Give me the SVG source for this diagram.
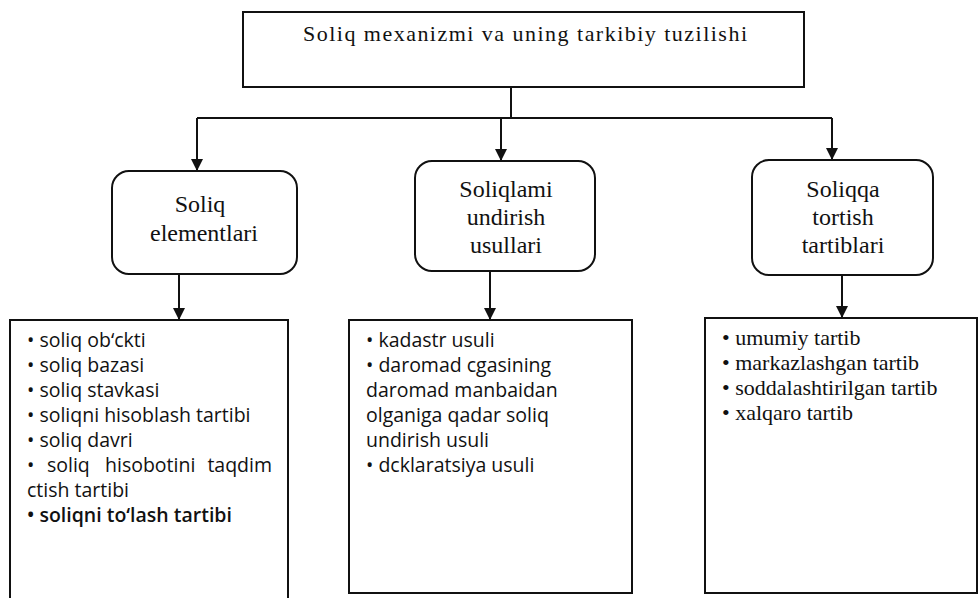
<svg xmlns="http://www.w3.org/2000/svg" width="980" height="598" viewBox="0 0 980 598">
<style>
.box{fill:#fff;stroke:#111;stroke-width:2}
.ln{fill:none;stroke:#111;stroke-width:2}
.ttl{font-family:"Liberation Serif",serif;font-size:22px;fill:#111}
.hd{font-family:"Liberation Serif",serif;font-size:24px;fill:#111;text-anchor:middle}
.it{font-family:"Open Sans","Liberation Sans",sans-serif;font-size:19.5px;fill:#111}
.its{font-family:"Liberation Serif",serif;font-size:22px;fill:#111}
</style>
<defs>
<marker id="a" markerUnits="userSpaceOnUse" markerWidth="12" markerHeight="12" refX="11" refY="6" orient="auto" viewBox="0 0 12 12">
<path d="M0 0 L12 6 L0 12 Z" fill="#111"/>
</marker>
</defs>
<g id="connectors">
<path class="ln" d="M511 87 V118"/>
<path class="ln" d="M197 118 H832"/>
<path class="ln" d="M197 118 V170" marker-end="url(#a)"/>
<path class="ln" d="M501 118 V160" marker-end="url(#a)"/>
<path class="ln" d="M832 118 V159" marker-end="url(#a)"/>
<path class="ln" d="M179 274 V319" marker-end="url(#a)"/>
<path class="ln" d="M490 271 V319" marker-end="url(#a)"/>
<path class="ln" d="M842 275 V317" marker-end="url(#a)"/>
</g>
<g id="root">
<rect class="box" x="243" y="12" width="561" height="75"/>
<text class="ttl" x="303" y="41" textLength="444" lengthAdjust="spacing">Soliq mexanizmi va uning tarkibiy tuzilishi</text>
</g>
<g id="elements">
<rect class="box" x="112" y="171" width="185" height="103" rx="17"/>
<text class="hd" x="200" y="212">Soliq</text>
<text class="hd" x="204" y="241">elementlari</text>
</g>
<g id="methods">
<rect class="box" x="415" y="161" width="180" height="110" rx="17"/>
<text class="hd" x="506" y="197">Soliqlami</text>
<text class="hd" x="506" y="225">undirish</text>
<text class="hd" x="506" y="253">usullari</text>
</g>
<g id="procedures">
<rect class="box" x="752" y="160" width="181" height="115" rx="17"/>
<text class="hd" x="843" y="197">Soliqqa</text>
<text class="hd" x="843" y="225">tortish</text>
<text class="hd" x="843" y="253">tartiblari</text>
</g>
<g id="elements-list">
<rect class="box" x="10" y="320" width="278" height="290"/>
<text class="it" x="27" y="347">• soliq ob‘ckti</text>
<text class="it" x="27" y="372">• soliq bazasi</text>
<text class="it" x="27" y="397">• soliq stavkasi</text>
<text class="it" x="27" y="422">• soliqni hisoblash tartibi</text>
<text class="it" x="27" y="447">• soliq davri</text>
<text class="it" y="472"><tspan x="27">•</tspan> <tspan x="47">soliq</tspan> <tspan x="105">hisobotini</tspan> <tspan x="272" text-anchor="end">taqdim</tspan></text>
<text class="it" x="27" y="497">ctish tartibi</text>
<text class="it" x="27" y="522" style="font-weight:600">• soliqni to‘lash tartibi</text>
</g>
<g id="methods-list">
<rect class="box" x="349" y="320" width="283" height="273"/>
<text class="it" x="366" y="347">• kadastr usuli</text>
<text class="it" x="366" y="372">• daromad cgasining</text>
<text class="it" x="366" y="397">daromad manbaidan</text>
<text class="it" x="366" y="422">olganiga qadar soliq</text>
<text class="it" x="366" y="447">undirish usuli</text>
<text class="it" x="366" y="472">• dcklaratsiya usuli</text>
</g>
<g id="procedures-list">
<rect class="box" x="705" y="318" width="272" height="275"/>
<text class="its" x="722" y="345">• umumiy tartib</text>
<text class="its" x="722" y="370">• markazlashgan tartib</text>
<text class="its" x="722" y="395">• soddalashtirilgan tartib</text>
<text class="its" x="722" y="420">• xalqaro tartib</text>
</g>
</svg>
